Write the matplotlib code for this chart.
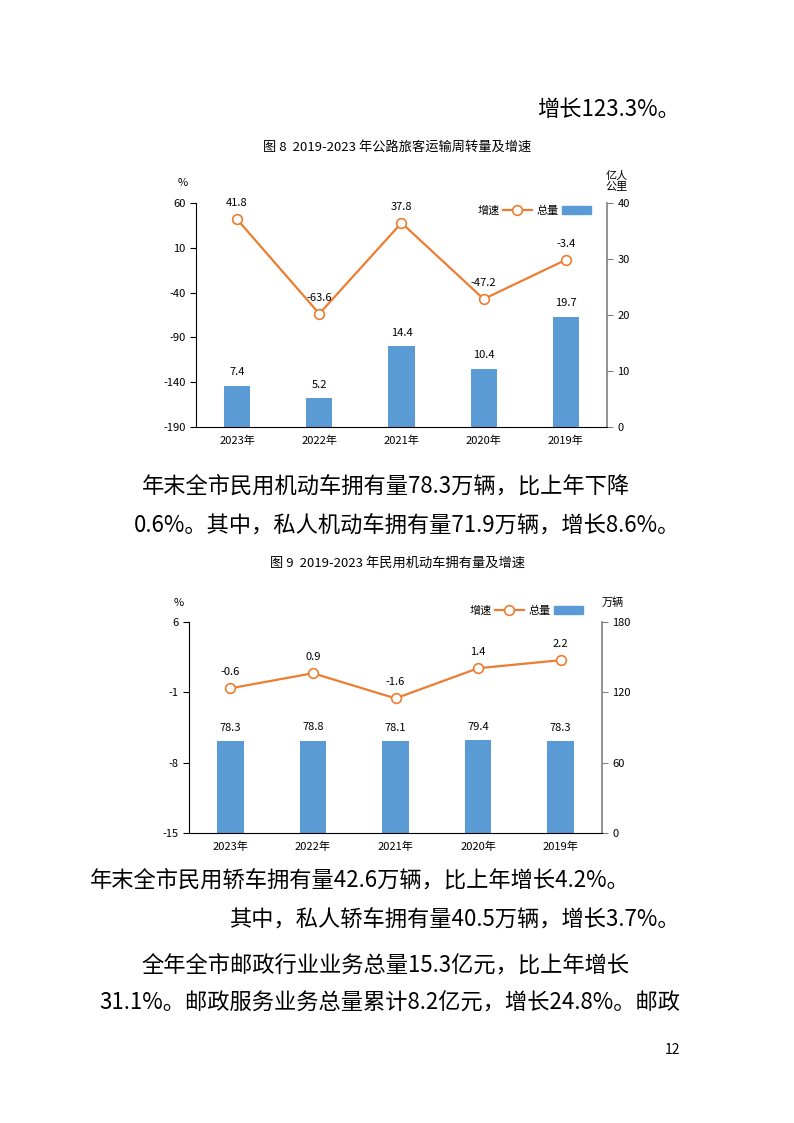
import numpy as np
import matplotlib
matplotlib.use("Agg")
import matplotlib.pyplot as plt
from matplotlib.lines import Line2D
from matplotlib.patches import Patch

plt.rcParams['font.family'] = ['Noto Sans CJK SC', 'DejaVu Sans']
plt.rcParams['axes.unicode_minus'] = False

# data
years = ['2019年', '2020年', '2021年', '2022年', '2023年']

turnover = [19.7, 10.4, 14.4, 5.2, 7.4]          # 亿人公里
turnover_growth = [-3.4, -47.2, 37.8, -63.6, 41.8]  # %

vehicles = [78.3, 79.4, 78.1, 78.8, 78.3]         # 万辆
vehicles_growth = [2.2, 1.4, -1.6, 0.9, -0.6]     # %

BAR = '#5B9BD5'
LINE = '#ED7D31'

W, H = 794, 1123
fig = plt.figure(figsize=(W / 100, H / 100), dpi=100)


def fx(px):
    return px / W


def fy(py):
    return 1 - py / H


def combo(box, bars, growth, ylim_l, step_l, ylim_r, step_r):
    x0, y0, x1, y1 = box
    ax = fig.add_axes([fx(x0), fy(y1), fx(x1) - fx(x0), fy(y0) - fy(y1)])
    ax2 = ax.twinx()
    x = np.arange(len(years))

    ax2.bar(x, bars, width=0.32, color=BAR, zorder=2)
    for xi, v in zip(x, bars):
        ax2.annotate(f'{v}', (xi, v), xytext=(0, 6), textcoords='offset points',
                     ha='center', va='bottom', fontsize=8)
    ax2.set_ylim(*ylim_r)
    ax2.set_yticks(np.arange(ylim_r[0], ylim_r[1] + 1, step_r))

    ax.plot(x, growth, color=LINE, lw=1.6, marker='o', ms=7,
            mfc='white', mec=LINE, mew=1.2, zorder=3)
    for xi, v in zip(x, growth):
        ax.annotate(f'{v}', (xi, v), xytext=(0, 8), textcoords='offset points',
                    ha='center', va='bottom', fontsize=8)
    ax.set_ylim(*ylim_l)
    ax.set_yticks(np.arange(ylim_l[0], ylim_l[1] + 1, step_l))

    ax.set_zorder(ax2.get_zorder() + 1)
    ax.patch.set_visible(False)

    ax.set_xlim(len(years) - 0.5, -0.5)
    ax.set_xticks(x)
    ax.set_xticklabels(years, fontsize=8)
    ax.tick_params(axis='x', length=0, pad=6)
    ax.tick_params(axis='y', labelsize=8, length=4, width=0.8, direction='out')
    ax2.tick_params(axis='y', labelsize=8, length=4, width=0.8, direction='out',
                    color='#808080')

    for a in (ax, ax2):
        a.spines['top'].set_visible(False)
    ax.spines['left'].set_color('black')
    ax.spines['bottom'].set_color('black')
    ax.spines['right'].set_visible(False)
    ax2.spines['left'].set_visible(False)
    ax2.spines['bottom'].set_visible(False)
    ax2.spines['right'].set_color('#808080')
    ax2.spines['right'].set_linewidth(1.2)
    return ax, ax2


def legend(cx, cy):
    handles = [Line2D([], [], color=LINE, lw=1.6, marker='o', ms=7,
                      mfc='white', mec=LINE, mew=1.2),
               Patch(color=BAR)]
    fig.legend(handles, ['增速', '总量'], loc='center',
               bbox_to_anchor=(fx(cx), fy(cy)), ncol=2, frameon=False,
               markerfirst=False, fontsize=8, handlelength=2.6,
               handletextpad=0.3, columnspacing=0.4)


# body text
body = 16
fig.text(fx(680), fy(110), '增长123.3%。', ha='right', va='center', fontsize=body)
fig.text(fx(630), fy(486), '年末全市民用机动车拥有量78.3万辆，比上年下降',
         ha='right', va='center', fontsize=body)
fig.text(fx(680), fy(526), '0.6%。其中，私人机动车拥有量71.9万辆，增长8.6%。',
         ha='right', va='center', fontsize=body)
fig.text(fx(630), fy(880), '年末全市民用轿车拥有量42.6万辆，比上年增长4.2%。',
         ha='right', va='center', fontsize=body)
fig.text(fx(680), fy(920), '其中，私人轿车拥有量40.5万辆，增长3.7%。',
         ha='right', va='center', fontsize=body)
fig.text(fx(630), fy(965), '全年全市邮政行业业务总量15.3亿元，比上年增长',
         ha='right', va='center', fontsize=body)
fig.text(fx(680), fy(1003), '31.1%。邮政服务业务总量累计8.2亿元，增长24.8%。邮政',
         ha='right', va='center', fontsize=body)
fig.text(fx(672), fy(1050), '12', ha='center', va='center', fontsize=10)

# chart 8
fig.text(fx(397), fy(147), '图 8  2019-2023 年公路旅客运输周转量及增速',
         ha='center', va='center', fontsize=9.5)
combo((196, 203, 607, 427), turnover, turnover_growth, (-190, 60), 50, (0, 40), 10)
fig.text(fx(183), fy(183), '%', ha='center', va='center', fontsize=8)
fig.text(fx(617), fy(181), '亿人\n公里', ha='center', va='center', fontsize=8,
         linespacing=1.1)
legend(534, 211)

# chart 9
fig.text(fx(397), fy(563), '图 9  2019-2023 年民用机动车拥有量及增速',
         ha='center', va='center', fontsize=9.5)
combo((189, 622, 602, 833), vehicles, vehicles_growth, (-15, 6), 7, (0, 180), 60)
fig.text(fx(179), fy(603), '%', ha='center', va='center', fontsize=8)
fig.text(fx(613), fy(603), '万辆', ha='center', va='center', fontsize=8)
legend(526, 611)

fig.savefig('out.png', dpi=100, facecolor='white')
